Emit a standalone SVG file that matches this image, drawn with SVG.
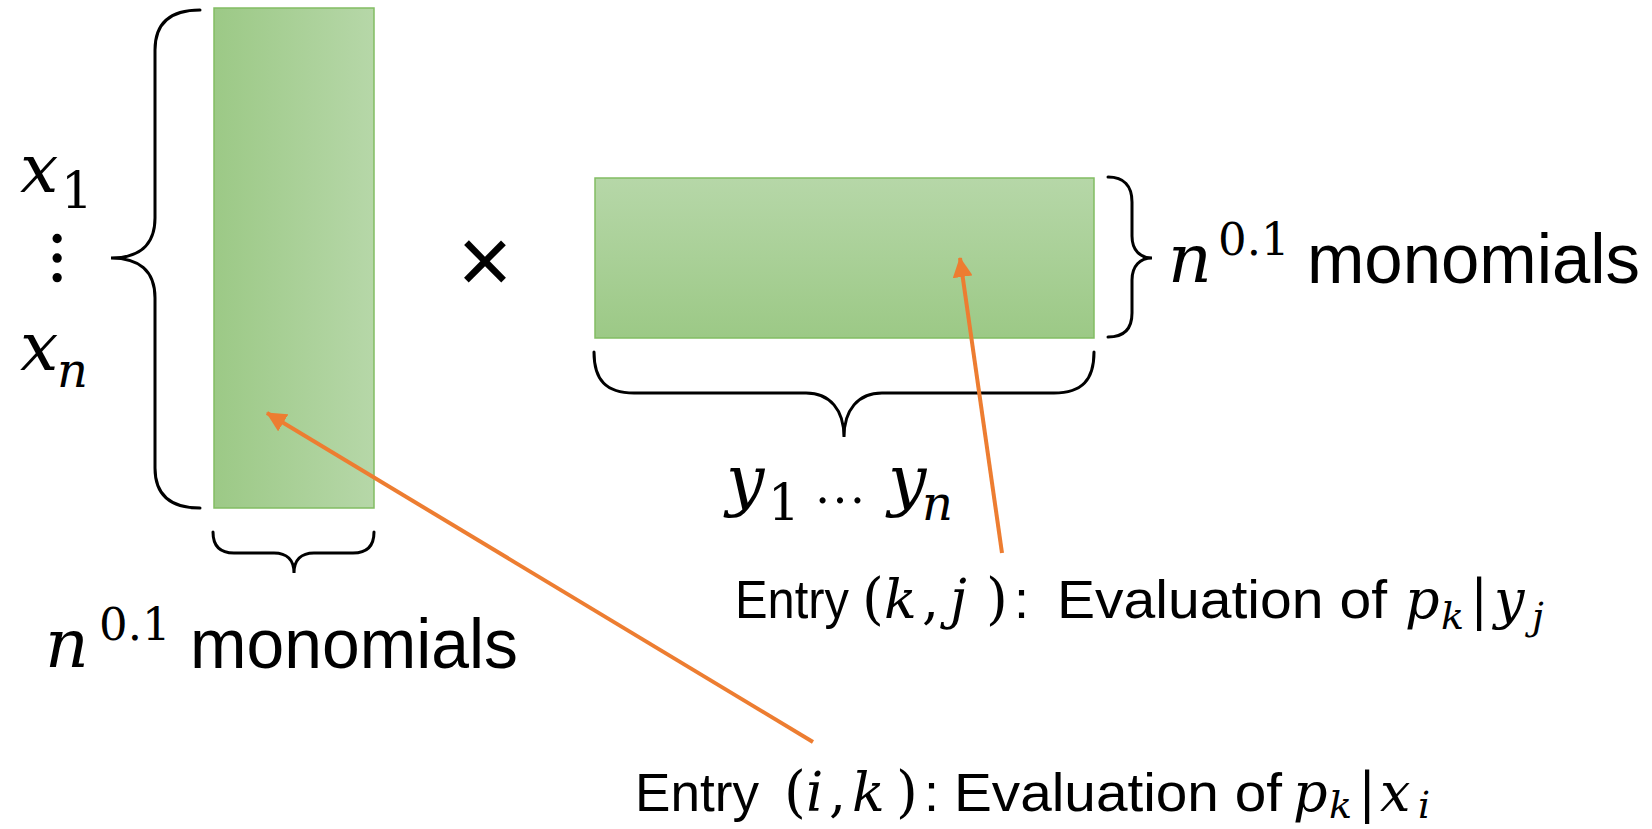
<svg xmlns="http://www.w3.org/2000/svg" width="1652" height="829" viewBox="0 0 1652 829">
<style>
.brace{fill:none;stroke:#000;stroke-width:3;stroke-linecap:round}
.sans{font-family:"Liberation Sans",Arial,sans-serif;fill:#000}
.m{font-family:"DejaVu Serif","Liberation Serif",serif;font-style:italic;fill:#000}
.u{font-family:"DejaVu Serif","Liberation Serif",serif;font-style:normal;fill:#000}
.arrow{fill:none;stroke:#ED7D31;stroke-width:4}
.mat{stroke:#82BD63;stroke-width:1.5}
</style>
<defs>
<linearGradient id="gH" x1="0" y1="0" x2="1" y2="0"><stop offset="0" stop-color="#9CC986"/><stop offset="1" stop-color="#B6D7A8"/></linearGradient>
<linearGradient id="gV" x1="0" y1="0" x2="0" y2="1"><stop offset="0" stop-color="#B6D7A8"/><stop offset="1" stop-color="#9CC986"/></linearGradient>
<marker id="ah" markerUnits="userSpaceOnUse" markerWidth="20" markerHeight="20" viewBox="0 0 20 20" refX="19" refY="10" orient="auto"><path d="M0,0 L20,10 L0,20 z" fill="#ED7D31"/></marker>
</defs>
<rect width="1652" height="829" fill="#fff"/>

<g id="left-matrix">
<rect class="mat" x="214" y="8" width="160" height="500" fill="url(#gH)"/>
<path class="brace" d="M200,10 C172,10 155,22 155,50 L155,218 C155,246 138,258 111,258 C138,258 155,270 155,298 L155,468 C155,496 172,508 200,508"/>
<path class="brace" d="M213,532 C213,546 220,553 234,553 L274,553 C287,553 294,560 294,573 C294,560 301,553 314,553 L353,553 C367,553 374,546 374,532"/>
</g>

<g id="left-rows">
<text class="m" x="20" y="192" font-size="68">x</text>
<text class="u" x="61" y="208" font-size="50">1</text>
<text transform="translate(53,258) rotate(90)" font-size="58" font-weight="bold" text-anchor="middle" style="font-family:'Liberation Serif',serif">…</text>
<text class="m" x="20" y="370" font-size="68">x</text>
<text class="m" x="57" y="387" font-size="48">n</text>
</g>

<g id="left-cols-label">
<text class="m" x="45" y="667" font-size="68">n</text>
<text class="u" x="99" y="640" font-size="45">0.1</text>
<text class="sans" x="190" y="668" font-size="70" textLength="328" lengthAdjust="spacingAndGlyphs">monomials</text>
</g>

<g id="times">
<text class="sans" x="485" y="293" font-size="94" text-anchor="middle">×</text>
</g>

<g id="right-matrix">
<rect class="mat" x="595" y="178" width="499" height="160" fill="url(#gV)"/>
<path class="brace" d="M1108,177 C1124,177 1132,186 1132,202 L1132,236 C1132,250 1140,258 1152,258 C1140,258 1132,266 1132,280 L1132,313 C1132,329 1124,337 1108,337"/>
<path class="brace" d="M594,352 C594,380 606,393 634,393 L806,393 C830,393 844,410 844,437 C844,410 858,393 882,393 L1054,393 C1082,393 1094,380 1094,352"/>
</g>

<g id="right-rows-label">
<text class="m" x="1168" y="282" font-size="68">n</text>
<text class="u" x="1218" y="255" font-size="45">0.1</text>
<text class="sans" x="1307" y="283" font-size="70" textLength="333" lengthAdjust="spacingAndGlyphs">monomials</text>
</g>

<g id="right-cols-label">
<text class="m" x="726" y="503" font-size="68">y</text>
<text class="u" x="768" y="520" font-size="50">1</text>
<text x="814" y="503" font-size="52" style="font-family:'Liberation Serif',serif">…</text>
<text class="m" x="888" y="503" font-size="68">y</text>
<text class="m" x="922" y="520" font-size="48">n</text>
</g>

<g id="label-kj">
<text class="sans" x="735" y="618" font-size="54" textLength="114" lengthAdjust="spacingAndGlyphs">Entry</text>
<text class="u" x="862" y="618" font-size="56">(</text>
<text class="m" x="884" y="618" font-size="54">k</text>
<text class="u" x="922" y="618" font-size="54">,</text>
<text class="m" x="950" y="618" font-size="54">j</text>
<text class="u" x="986" y="618" font-size="56">)</text>
<text class="sans" x="1014" y="618" font-size="54">:</text>
<text class="sans" x="1057" y="618" font-size="54" textLength="330" lengthAdjust="spacingAndGlyphs">Evaluation of</text>
<text class="m" x="1405" y="618" font-size="54">p</text>
<text class="m" x="1441" y="629" font-size="38">k</text>
<text class="u" x="1470" y="618" font-size="54">|</text>
<text class="m" x="1494" y="618" font-size="54">y</text>
<text class="m" x="1532" y="629" font-size="38">j</text>
</g>

<g id="label-ik">
<text class="sans" x="635" y="811" font-size="54" textLength="124" lengthAdjust="spacingAndGlyphs">Entry</text>
<text class="u" x="784" y="811" font-size="56">(</text>
<text class="m" x="806" y="811" font-size="54">i</text>
<text class="u" x="829" y="811" font-size="54">,</text>
<text class="m" x="852" y="811" font-size="54">k</text>
<text class="u" x="896" y="811" font-size="56">)</text>
<text class="sans" x="924" y="811" font-size="54">:</text>
<text class="sans" x="954" y="811" font-size="54" textLength="328" lengthAdjust="spacingAndGlyphs">Evaluation of</text>
<text class="m" x="1293" y="811" font-size="54">p</text>
<text class="m" x="1329" y="818" font-size="38">k</text>
<text class="u" x="1358" y="811" font-size="54">|</text>
<text class="m" x="1380" y="811" font-size="54">x</text>
<text class="m" x="1418" y="818" font-size="38">i</text>
</g>

<g id="connectors">
<line class="arrow" x1="813" y1="742" x2="267" y2="413" marker-end="url(#ah)"/>
<line class="arrow" x1="1002" y1="553" x2="960" y2="258" marker-end="url(#ah)"/>
</g>
</svg>
